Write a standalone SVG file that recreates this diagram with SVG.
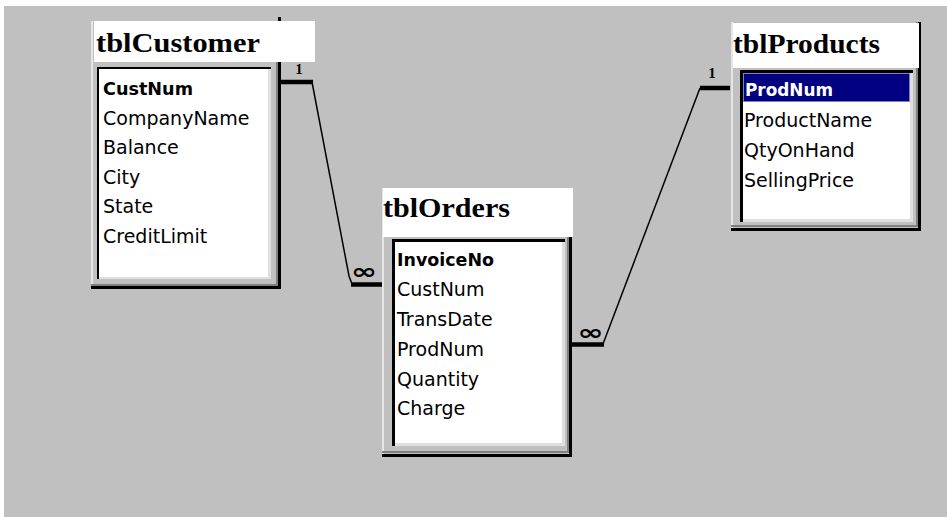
<svg xmlns="http://www.w3.org/2000/svg" width="947" height="517" viewBox="0 0 947 517">
<defs>
<style>
.bg{fill:#c0c0c0}
.face{fill:#c0c0c0}
.hi{fill:#e6e6e6}
.sh{fill:#808080}
.blk{fill:#000}
.list{fill:#fff}
.lite{fill:#dfdfdf}
.title{fill:#fff}
.tt{font-family:"Liberation Serif","Times New Roman",serif;font-weight:bold;font-size:28px;fill:#000}
.fld{font-family:"DejaVu Sans",Tahoma,sans-serif;font-size:19px;fill:#000}
.key{font-family:"DejaVu Sans",Tahoma,sans-serif;font-size:18px;font-weight:bold;fill:#000}
.thin{fill:none;stroke:#000;stroke-width:1.5}
.thick{fill:none;stroke:#000;stroke-width:4.5}
.one{font-family:"Liberation Serif",serif;font-weight:bold;font-size:15px;fill:#000}
.inf{font-family:"DejaVu Sans",sans-serif;font-weight:bold;font-size:22px;fill:#000}
</style>
</defs>
<rect x="0" y="0" width="947" height="517" fill="#fff"/>
<rect class="bg" x="4" y="6" width="943" height="511"/>

<g id="connectors">
<polyline class="thin" points="312,82 349,276 352,284"/>
<line class="thick" x1="281" y1="82" x2="313" y2="82"/>
<line class="thick" x1="351" y1="284.5" x2="382" y2="284.5"/>
<text class="one" x="299" y="74" text-anchor="middle">1</text>
<text class="inf" x="364" y="279" text-anchor="middle" textLength="26" lengthAdjust="spacingAndGlyphs">∞</text>

<polyline class="thin" points="603,344 700,88"/>
<line class="thick" x1="572" y1="344.5" x2="604" y2="344.5"/>
<line class="thick" x1="700" y1="88" x2="730" y2="88"/>
<text class="one" x="712" y="78" text-anchor="middle">1</text>
<text class="inf" x="590.5" y="339.5" text-anchor="middle" textLength="26" lengthAdjust="spacingAndGlyphs">∞</text>
</g>

<g id="tblCustomer">
<rect class="face" x="91" y="21" width="190" height="268"/>
<rect class="hi" x="91" y="21" width="2" height="266"/>
<rect class="sh" x="276" y="21" width="2" height="265"/>
<rect class="blk" x="278" y="17" width="3" height="272"/>
<rect class="sh" x="91" y="284" width="187" height="2"/>
<rect class="blk" x="91" y="286" width="190" height="3"/>
<rect class="blk" x="97" y="67" width="174" height="212"/>
<rect class="lite" x="99" y="69" width="172" height="210"/>
<rect class="list" x="99" y="69" width="169" height="208"/>
<rect class="title" x="94" y="21" width="221" height="41"/>
<text class="tt" x="96" y="52" textLength="164" lengthAdjust="spacingAndGlyphs">tblCustomer</text>
<text class="key" x="103" y="95" textLength="90" lengthAdjust="spacingAndGlyphs">CustNum</text>
<text class="fld" x="103" y="124.5">CompanyName</text>
<text class="fld" x="103" y="154">Balance</text>
<text class="fld" x="103" y="183.5">City</text>
<text class="fld" x="103" y="213">State</text>
<text class="fld" x="103" y="243">CreditLimit</text>
</g>

<g id="tblOrders">
<rect class="face" x="382" y="188" width="190" height="269"/>
<rect class="hi" x="382" y="188" width="2" height="267"/>
<rect class="sh" x="567" y="188" width="2" height="265"/>
<rect class="blk" x="569" y="188" width="3" height="269"/>
<rect class="sh" x="382" y="451" width="187" height="2"/>
<rect class="blk" x="382" y="454" width="190" height="3"/>
<rect class="blk" x="392" y="239" width="173" height="207"/>
<rect class="lite" x="395" y="242" width="170" height="204"/>
<rect class="list" x="395" y="242" width="167" height="201"/>
<rect class="title" x="383" y="188" width="190" height="49"/>
<text class="tt" x="383" y="217" textLength="127" lengthAdjust="spacingAndGlyphs">tblOrders</text>
<text class="key" x="397" y="266" textLength="97" lengthAdjust="spacingAndGlyphs">InvoiceNo</text>
<text class="fld" x="397" y="296">CustNum</text>
<text class="fld" x="397" y="326">TransDate</text>
<text class="fld" x="397" y="356">ProdNum</text>
<text class="fld" x="397" y="386">Quantity</text>
<text class="fld" x="397" y="415">Charge</text>
</g>

<g id="tblProducts">
<rect class="face" x="731" y="22" width="190" height="209"/>
<rect class="hi" x="731" y="22" width="2" height="207"/>
<rect class="sh" x="916" y="22" width="2" height="205"/>
<rect class="blk" x="918" y="22" width="3" height="209"/>
<rect class="sh" x="731" y="225" width="187" height="2"/>
<rect class="blk" x="731" y="228" width="190" height="3"/>
<rect class="blk" x="740" y="70" width="173" height="152"/>
<rect class="lite" x="743" y="73" width="170" height="149"/>
<rect class="list" x="743" y="73" width="167" height="146"/>
<rect class="title" x="733" y="23" width="186" height="45"/>
<text class="tt" x="733" y="53" textLength="147" lengthAdjust="spacingAndGlyphs">tblProducts</text>
<rect x="743" y="73" width="167" height="29" fill="#000080"/>
<rect x="743.5" y="73.5" width="166" height="28" fill="none" stroke="#fff" stroke-width="1" stroke-dasharray="1,1"/>
<text class="key" x="745" y="96" textLength="88" lengthAdjust="spacingAndGlyphs" style="fill:#fff">ProdNum</text>
<text class="fld" x="744" y="127">ProductName</text>
<text class="fld" x="744" y="157">QtyOnHand</text>
<text class="fld" x="744" y="187">SellingPrice</text>
</g>
</svg>
